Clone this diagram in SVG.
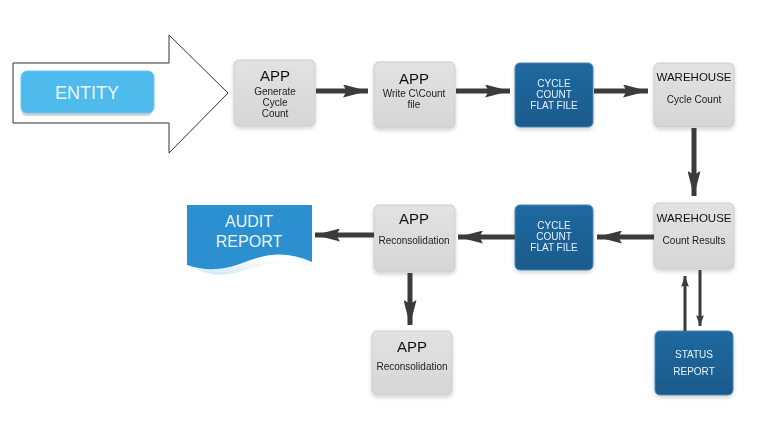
<svg xmlns="http://www.w3.org/2000/svg" width="760" height="428" viewBox="0 0 760 428">
<defs>
<linearGradient id="gGray" x1="0" y1="0" x2="0" y2="1">
<stop offset="0" stop-color="#e2e2e2"/>
<stop offset="1" stop-color="#d6d6d6"/>
</linearGradient>
<linearGradient id="gBlue" x1="0" y1="0" x2="0" y2="1">
<stop offset="0" stop-color="#2069a0"/>
<stop offset="1" stop-color="#1a5a8c"/>
</linearGradient>
<linearGradient id="gWave" x1="0" y1="0" x2="0" y2="1">
<stop offset="0" stop-color="#ffffff"/>
<stop offset="1" stop-color="#cfe8f5"/>
</linearGradient>
<filter id="sh" x="-20%" y="-20%" width="140%" height="150%">
<feGaussianBlur in="SourceAlpha" stdDeviation="2"/>
<feOffset dx="0" dy="2"/>
<feComponentTransfer><feFuncA type="linear" slope="0.18"/></feComponentTransfer>
<feMerge><feMergeNode/><feMergeNode in="SourceGraphic"/></feMerge>
</filter>
<marker id="ah" viewBox="0 0 10 10" refX="10" refY="5" markerWidth="5" markerHeight="2.6" markerUnits="strokeWidth" orient="auto" preserveAspectRatio="none">
<path d="M0,0 L10,5 L0,10 L1.5,5 Z" fill="#3b3b3b"/>
</marker>
<marker id="ahs" viewBox="0 0 10 10" refX="10" refY="5" markerWidth="3.6" markerHeight="2.6" markerUnits="strokeWidth" orient="auto" preserveAspectRatio="none">
<path d="M0,0 L10,5 L0,10 L1.5,5 Z" fill="#3b3b3b"/>
</marker>
</defs>
<style>
.gray{fill:url(#gGray);stroke:#cdcdcd;stroke-width:1}
.blue{fill:url(#gBlue);stroke:#4a86b4;stroke-width:1}
.t{font-family:"Liberation Sans",Arial,sans-serif;text-anchor:middle}
.h{font-size:15px;fill:#111}
.wh{font-size:11.5px;fill:#111}
.s{font-size:10px;fill:#222}
.w{font-size:10px;fill:#e8f2fb}
.c{stroke:#3b3b3b;stroke-width:5;fill:none;marker-end:url(#ah)}
.cs{stroke:#3b3b3b;stroke-width:3;fill:none;marker-end:url(#ahs)}
</style>
<rect width="760" height="428" fill="#ffffff"/>

<g id="entity">
<path d="M13,63 L169,63 L169,35 L228,93 L169,153 L169,123 L13,123 Z" fill="#ffffff" stroke="#333" stroke-width="1"/>
<rect x="21" y="74" width="132" height="42" rx="6" fill="#d3d3d3"/>
<rect x="21" y="71" width="133" height="42" rx="6" fill="#4fbaec" stroke="#6ac6f0" stroke-width="1"/>
<text class="t" x="87" y="99" font-size="18" fill="#eaf8ff">ENTITY</text>
</g>

<g id="app1" filter="url(#sh)">
<rect class="gray" x="234" y="60" width="81" height="66" rx="5"/>
<text class="t h" x="275" y="81">APP</text>
<text class="t s" x="275" y="95">Generate</text>
<text class="t s" x="275" y="106">Cycle</text>
<text class="t s" x="275" y="117">Count</text>
</g>

<g id="app2" filter="url(#sh)">
<rect class="gray" x="374" y="62" width="81" height="66" rx="5"/>
<text class="t h" x="414" y="84">APP</text>
<text class="t s" x="414" y="97">Write C\Count</text>
<text class="t s" x="414" y="108">file</text>
</g>

<g id="flat1" filter="url(#sh)">
<rect class="blue" x="515" y="63" width="78" height="64" rx="5"/>
<text class="t w" x="554" y="87">CYCLE</text>
<text class="t w" x="554" y="98">COUNT</text>
<text class="t w" x="554" y="109">FLAT FILE</text>
</g>

<g id="wh1" filter="url(#sh)">
<rect class="gray" x="654" y="63" width="80" height="64" rx="5"/>
<text class="t wh" x="694" y="81">WAREHOUSE</text>
<text class="t s" x="694" y="103">Cycle Count</text>
</g>

<g id="wh2" filter="url(#sh)">
<rect class="gray" x="654" y="203" width="80" height="66" rx="5"/>
<text class="t wh" x="694" y="222">WAREHOUSE</text>
<text class="t s" x="694" y="244">Count Results</text>
</g>

<g id="flat2" filter="url(#sh)">
<rect class="blue" x="515" y="205" width="78" height="65" rx="5"/>
<text class="t w" x="554" y="229">CYCLE</text>
<text class="t w" x="554" y="240">COUNT</text>
<text class="t w" x="554" y="251">FLAT FILE</text>
</g>

<g id="recon1" filter="url(#sh)">
<rect class="gray" x="374" y="205" width="81" height="67" rx="5"/>
<text class="t h" x="414" y="224">APP</text>
<text class="t s" x="414" y="244">Reconsolidation</text>
</g>

<g id="audit">
<path d="M187,264 C205,276 222,278 245,270 C270,261 292,260 312,266 L312,260 Z" fill="url(#gWave)"/>
<path d="M187,205 L312,205 L312,262 C290,252 270,252 245,262 C222,271 205,271 187,265 Z" fill="#2b8fd0"/>
<text class="t" x="249" y="227" font-size="16" fill="#eaf6ff">AUDIT</text>
<text class="t" x="249" y="247" font-size="16" fill="#eaf6ff">REPORT</text>
</g>

<g id="recon2" filter="url(#sh)">
<rect class="gray" x="372" y="331" width="80" height="64" rx="5"/>
<text class="t h" x="412" y="352">APP</text>
<text class="t s" x="412" y="370">Reconsolidation</text>
</g>

<g id="status" filter="url(#sh)">
<rect class="blue" x="655" y="331" width="78" height="64" rx="5"/>
<text class="t w" x="694" y="358">STATUS</text>
<text class="t w" x="694" y="375">REPORT</text>
</g>

<g id="connectors">
<line class="c" x1="316" y1="91" x2="368" y2="91"/>
<line class="c" x1="456" y1="91" x2="510" y2="91"/>
<line class="c" x1="594" y1="91" x2="648" y2="91"/>
<line class="c" x1="694" y1="128" x2="694" y2="196"/>
<line class="c" x1="654" y1="237" x2="597" y2="237"/>
<line class="c" x1="515" y1="237" x2="458" y2="237"/>
<line class="c" x1="374" y1="235" x2="315" y2="235"/>
<line class="c" x1="410" y1="273" x2="410" y2="325"/>
<line class="cs" x1="685" y1="331" x2="685" y2="276"/>
<line class="cs" x1="700" y1="270" x2="700" y2="326"/>
</g>
</svg>
